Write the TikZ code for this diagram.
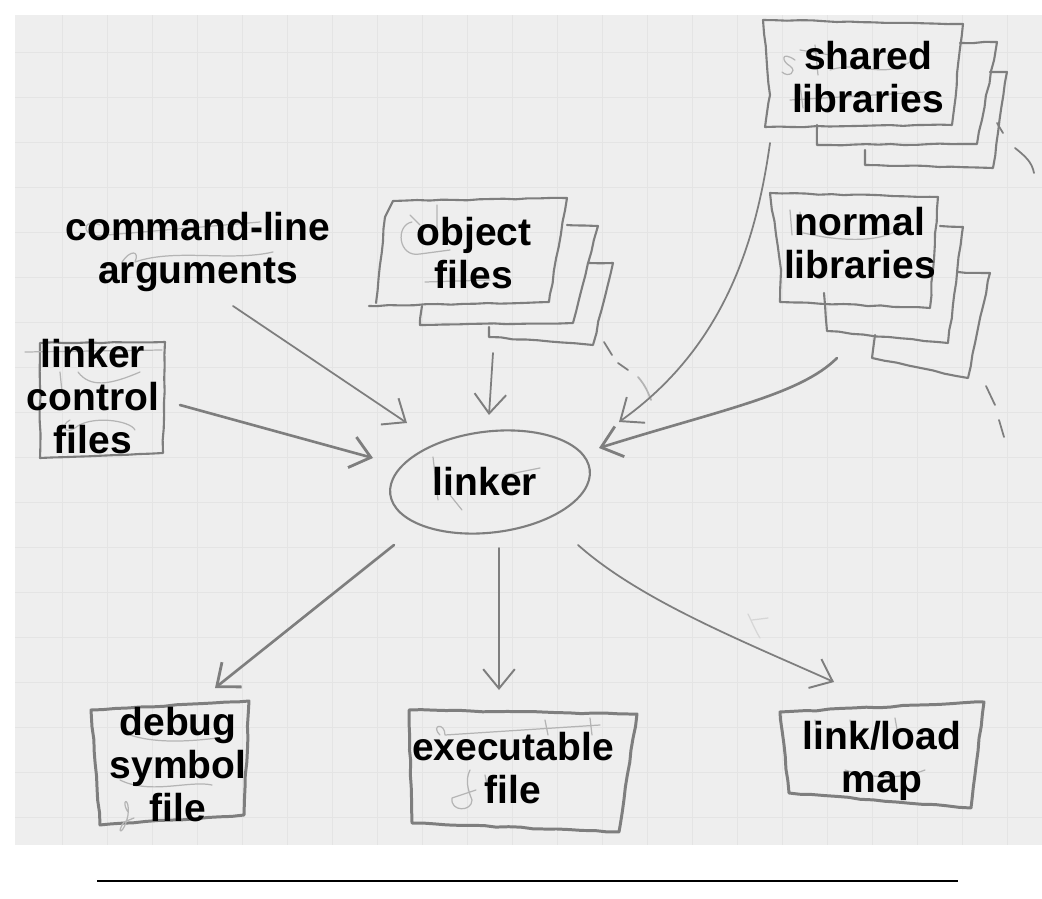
\documentclass[tikz,border=0pt]{standalone}
\usepackage{fontspec}
\setmainfont{Liberation Sans}
\usetikzlibrary{arrows.meta,calc,shapes.geometric,decorations.pathmorphing}
\definecolor{paper}{HTML}{EEEEEE}
\definecolor{gridline}{HTML}{E4E4E4}
\definecolor{pencilgrey}{HTML}{7E7E7E}
\definecolor{ghostgrey}{HTML}{B4B4B4}
\tikzset{
  x=0.02cm,y=-0.02cm,
  lbl/.style={font=\bfseries\fontsize{22.2}{24.5}\selectfont,align=center,inner sep=0pt,text=black},
  sketch/.style={draw=pencilgrey,line width=1.2pt,line join=round,line cap=round,
    decorate,decoration={random steps,segment length=7pt,amplitude=0.35pt}},
  heavy/.style={sketch,line width=1.7pt},
  conn/.style={draw=pencilgrey,line width=1pt,line cap=round,-{Straight Barb[length=11pt,width=18pt,line width=1.1pt]}},
  connh/.style={conn,line width=1.5pt,-{Straight Barb[length=11pt,width=18pt,line width=1.6pt]}},
  trail/.style={draw=pencilgrey,line width=1pt,line cap=round},
  ghost/.style={draw=ghostgrey,line width=0.7pt,line cap=round,line join=round},
}
\pgfmathsetseed{7}
\begin{document}
\begin{tikzpicture}
\useasboundingbox (0,0) rectangle (1042,899);
% paper
\fill[paper] (15,15) rectangle (1042,845);
\foreach \gx in {62,107,152,197,242,287,332,377,422,467,512,557,602,647,692,737,782,827,872,917,962,1007}
  \draw[gridline,line width=0.3pt] (\gx,15) -- (\gx,845);
\foreach \gy in {52,97,142,187,232,277,322,367,412,457,502,547,592,637,682,727,772,817}
  \draw[gridline,line width=0.3pt] (15,\gy) -- (1042,\gy);
% rule under the sheet
\coordinate (ruleL) at (97,881);
\coordinate (ruleR) at (958,881);
\draw[black,line width=0.6pt] (ruleL) -- (ruleR);

% sheets: shared libraries
\draw[sketch] (865,150) -- (865,165) -- (993,168) -- (1007,72) -- (990,72);
\draw[sketch] (817,125) -- (817,145) -- (977,144) -- (997,42) -- (960,43);
\draw[sketch] (763,20) -- (963,24) -- (952,125) -- (765,127) -- (770,95) -- cycle;
% sheets: normal libraries
\draw[sketch] (875,335) -- (872,358) -- (968,378) -- (990,273) -- (958,272);
\draw[sketch] (824,293) -- (827,331) -- (948,343) -- (963,227) -- (940,226);
\draw[sketch] (770,193) -- (938,197) -- (930,308) -- (780,302) -- (781,270) -- cycle;
% sheets: object files
\draw[sketch] (489,327) -- (489,337) -- (593,345) -- (613,263) -- (589,263);
\draw[sketch] (422,306) -- (420,325) -- (573,323) -- (598,226) -- (567,225);
\draw[sketch] (393,201) -- (567,198) -- (549,302) -- (369,306);
\draw[sketch] (385,217) -- (376,303);
\draw[sketch] (393,201) -- (385,217);
% linker control files box
\draw[sketch] (40,343) -- (165,342) -- (163,453) -- (40,458) -- cycle;
% output boxes
\draw[heavy] (91,710) -- (249,701) -- (244,815) -- (100,825) -- cycle;
\draw[heavy] (409,710) -- (637,714) -- (619,832) -- (412,823) -- cycle;
\draw[heavy] (780,712) -- (984,702) -- (971,808) -- (789,793) -- cycle;

% dashed pencil trails
\draw[trail] (997,123) -- (1003,133);
\draw[trail] (1015,148) .. controls (1025,156) and (1032,162) .. (1034,173);
\draw[trail] (986,386) -- (995,405);
\draw[trail] (999,420) -- (1004,437);
\draw[trail] (604,342) -- (612,355);
\draw[trail] (618,363) -- (628,370);
\draw[trail,draw=ghostgrey] (638,377) .. controls (645,385) and (648,392) .. (651,400);

% faint handwriting under the labels
\draw[ghost] (795,60) .. controls (780,50) and (782,62) .. (790,66) .. controls (798,72) and (788,78) .. (782,72);
\draw[ghost] (800,50) -- (830,55) (815,45) -- (818,75) (830,70) .. controls (860,60) and (880,80) .. (910,62);
\draw[ghost] (790,100) -- (925,92) (800,85) -- (803,108);
\draw[ghost] (790,210) -- (792,235) (800,212) -- (802,235) (800,232) .. controls (830,240) and (880,245) .. (900,228);
\draw[ghost] (100,225) .. controls (85,218) and (80,232) .. (95,236) -- (260,222);
\draw[ghost] (122,262) .. controls (130,250) and (140,250) .. (135,262) .. controls (175,248) and (230,262) .. (273,252);
\draw[ghost] (410,215) -- (420,225) (437,205) -- (437,240);
\draw[ghost] (412,222) .. controls (395,225) and (398,258) .. (420,254) -- (450,250);
\draw[ghost] (425,282) -- (490,280);
\draw[ghost] (60,372) -- (62,392) (78,372) .. controls (90,388) and (110,385) .. (140,372);
\draw[ghost] (70,420) .. controls (60,425) and (65,435) .. (75,428) .. controls (90,415) and (130,420) .. (135,430);
\draw[ghost] (25,352) -- (162,350);
\draw[ghost] (433,457) -- (438,500) (450,495) -- (462,510) (505,475) -- (540,468);
\draw[ghost] (130,735) .. controls (160,745) and (200,740) .. (218,738);
\draw[ghost] (120,780) .. controls (150,795) and (190,780) .. (212,785);
\draw[ghost] (128,812) .. controls (120,800) and (130,795) .. (128,815) .. controls (124,835) and (115,835) .. (124,822) -- (134,818);
\draw[ghost] (440,735) .. controls (430,725) and (445,722) .. (445,735) -- (600,725) (545,720) -- (548,735) (590,718) -- (592,735);
\draw[ghost] (470,770) .. controls (465,780) and (468,790) .. (472,800) .. controls (472,812) and (450,812) .. (452,798) -- (476,790);
\draw[ghost] (485,775) -- (490,800);
\draw[ghost] (815,720) -- (818,735) (850,720) -- (853,735) (895,718) -- (898,735);
\draw[ghost] (845,770) .. controls (870,778) and (900,780) .. (925,770);
\draw[ghost,draw=gridline!70!ghostgrey] (748,614) .. controls (752,622) and (755,630) .. (760,638) (752,620) -- (768,618);

% nodes
\node[draw=pencilgrey,line width=1.2pt,ellipse,minimum width=4.02cm,minimum height=2.02cm,inner sep=0pt,rotate=7] (linker) at (490,482) {};
\node[lbl] (linkertext) at (485,482) {linker};
\node[lbl] (args) at (198,252) {command-line\\arguments};
\node[lbl] (ctrl) at (93,397) {linker\\control\\files};
\node[lbl] (obj) at (474,253) {object\\files};
\node[lbl] (shlib) at (868,77) {shared\\libraries};
\node[lbl] (nlib) at (860,243) {normal\\libraries};
\node[lbl] (dbg) at (178,765) {debug\\symbol\\file};
\node[lbl] (exe) at (513,768) {executable\\file};
\node[lbl] (mp) at (882,761) {link/load\\map};

% connectors
\draw[conn] ([shift={(35,54)}]args.center) -- ([shift={(-83,-59)}]linker.center);
\draw[connh] ([shift={(87,8)}]ctrl.center) -- ([shift={(-117,-24)}]linker.center);
\draw[conn] ([shift={(19,100)}]obj.center) -- ([shift={(-1,-67)}]linker.center);
\draw[conn] ([shift={(-98,66)}]shlib.center) .. controls (755,250) and (720,350) .. ([shift={(129,-60)}]linker.center);
\draw[connh] ([shift={(-23,115)}]nlib.center) .. controls (800,395) and (720,410) .. ([shift={(109,-34)}]linker.center);
\draw[connh] ([shift={(-96,63)}]linker.center) -- ([shift={(37,-77)}]dbg.center);
\draw[conn] ([shift={(9,66)}]linker.center) -- ([shift={(-14,-78)}]exe.center);
\draw[conn] ([shift={(88,63)}]linker.center) .. controls (640,600) and (740,640) .. ([shift={(-48,-79)}]mp.center);
\end{tikzpicture}
\end{document}
